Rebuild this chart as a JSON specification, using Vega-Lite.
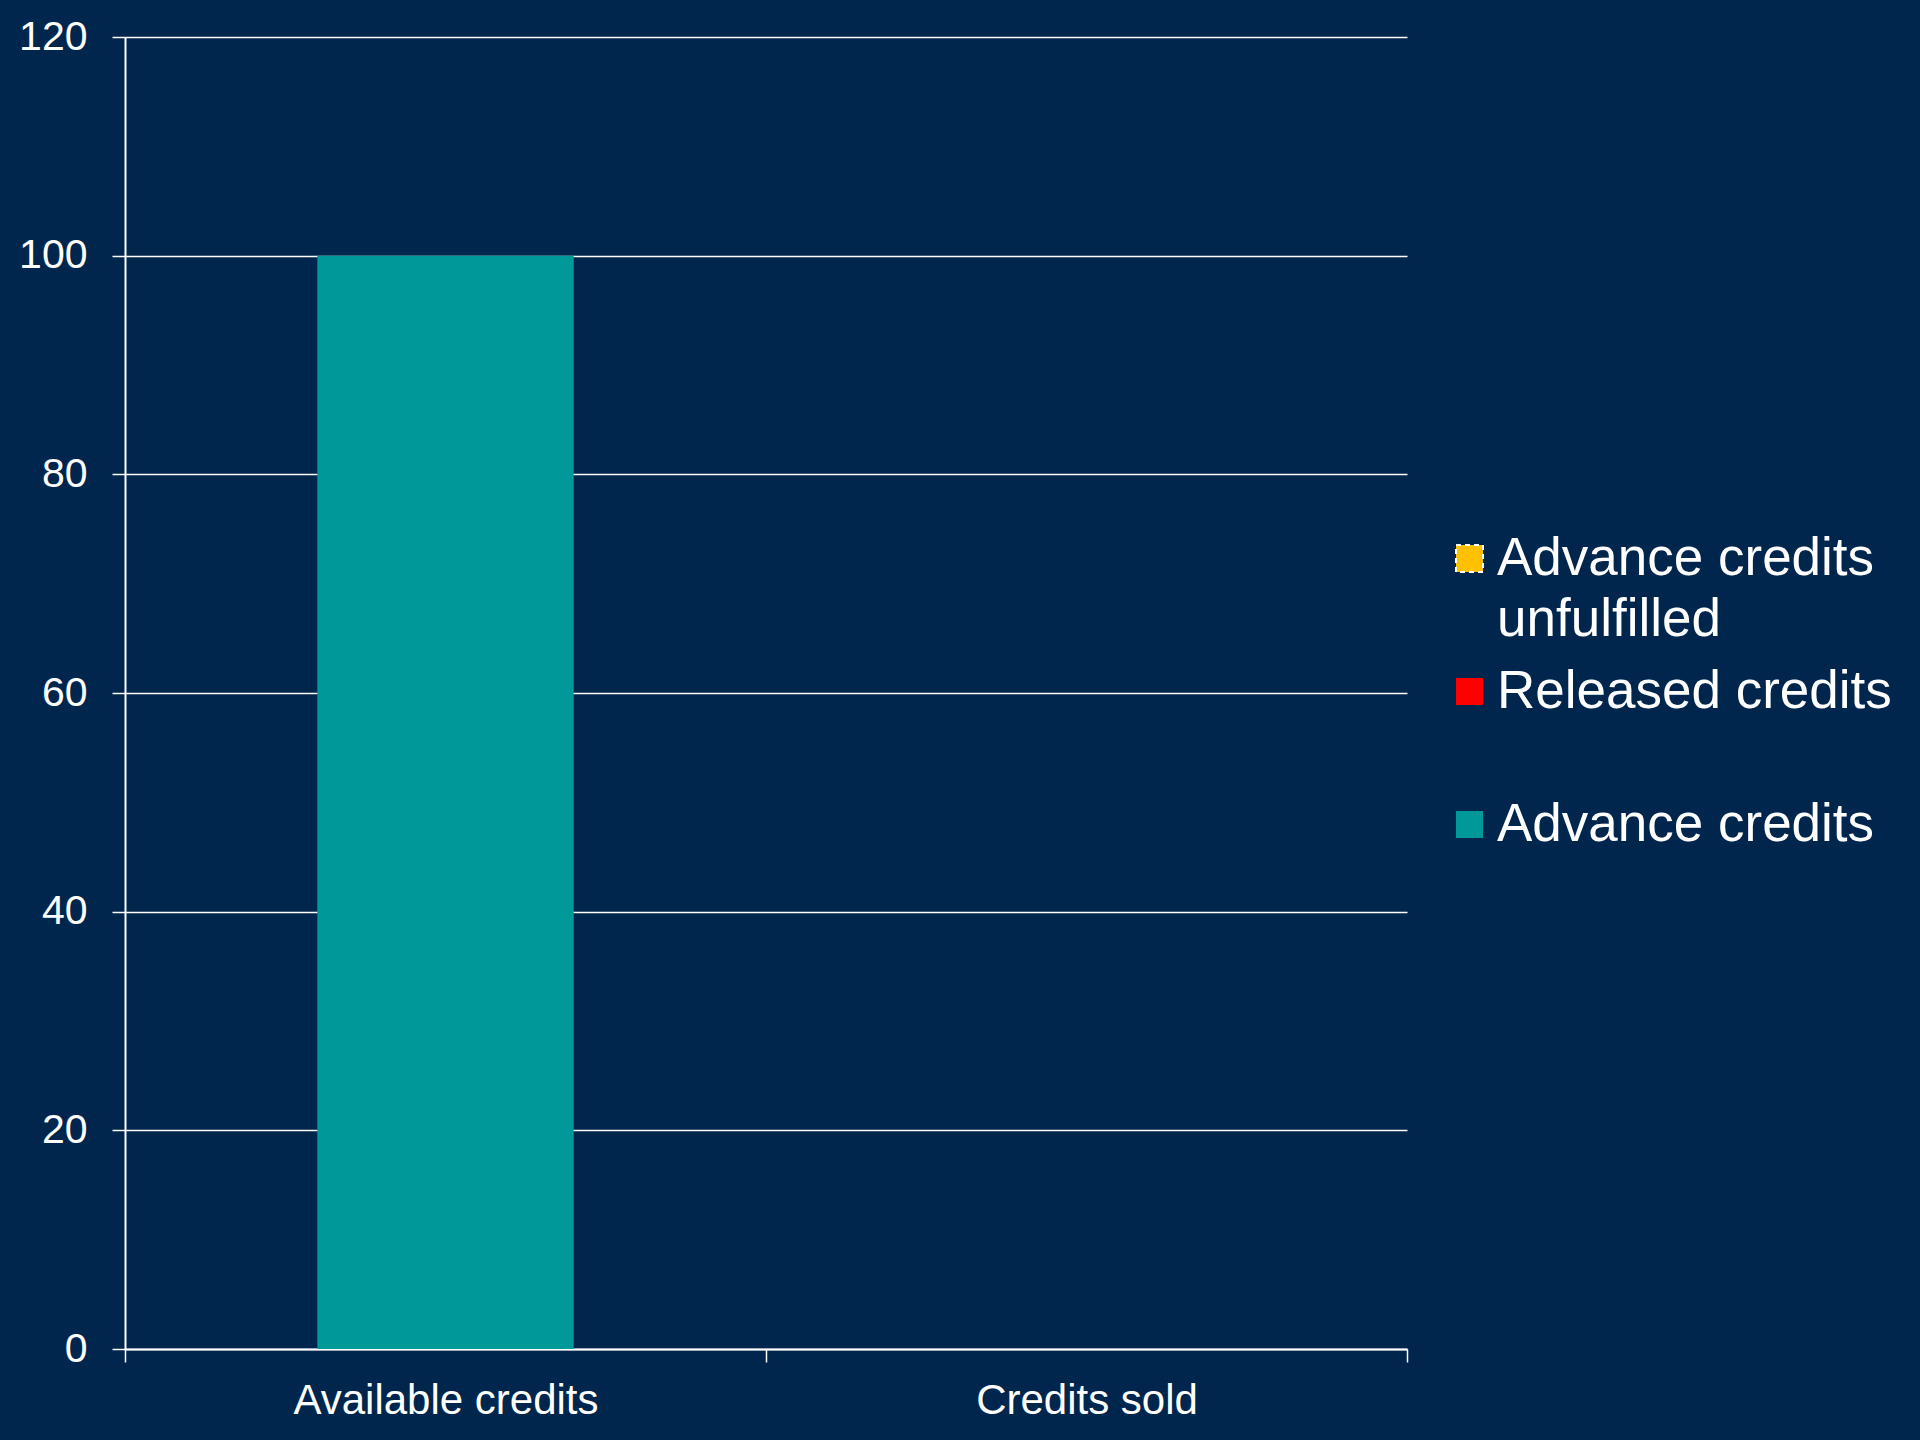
{
  "$schema": "https://vega.github.io/schema/vega-lite/v6.json",
  "width": 1282,
  "height": 1312,
  "autosize": {"type": "none"},
  "padding": {"left": 125, "top": 37, "right": 513, "bottom": 91},
  "background": "#00264D",
  "config": {
    "view": {"stroke": null},
    "font": "Liberation Sans"
  },
  "data": {
    "values": [
      {"category": "Available credits", "series": "Advance credits", "value": 100, "ord": 1},
      {"category": "Available credits", "series": "Released credits", "value": 0, "ord": 2},
      {"category": "Available credits", "series": "Advance credits unfulfilled", "value": 0, "ord": 3},
      {"category": "Credits sold", "series": "Advance credits", "value": 0, "ord": 1},
      {"category": "Credits sold", "series": "Released credits", "value": 0, "ord": 2},
      {"category": "Credits sold", "series": "Advance credits unfulfilled", "value": 0, "ord": 3}
    ]
  },
  "mark": {"type": "bar", "width": {"band": 0.4}},
  "encoding": {
    "x": {
      "field": "category",
      "type": "nominal",
      "sort": null,
      "title": null,
      "scale": {"paddingInner": 0, "paddingOuter": 0},
      "axis": {
        "labelAngle": 0,
        "labelFontSize": 42,
        "labelColor": "white",
        "labelFont": "Liberation Sans",
        "labelLimit": 0,
        "labelPadding": 18,
        "tickSize": 13,
        "tickColor": "white",
        "tickWidth": 1.5,
        "tickBand": "extent",
        "domainColor": "white",
        "domainWidth": 2,
        "grid": false
      }
    },
    "y": {
      "field": "value",
      "type": "quantitative",
      "stack": "zero",
      "title": null,
      "scale": {"domain": [0, 120], "nice": false},
      "axis": {
        "values": [0, 20, 40, 60, 80, 100, 120],
        "labelFontSize": 41,
        "labelColor": "white",
        "labelFont": "Liberation Sans",
        "labelPadding": 25,
        "tickSize": 13,
        "tickColor": "white",
        "tickWidth": 1.5,
        "domainColor": "white",
        "domainWidth": 2,
        "grid": true,
        "gridColor": "white",
        "gridWidth": 1.5,
        "gridOpacity": 1
      }
    },
    "order": {"field": "ord", "type": "quantitative"},
    "color": {
      "field": "series",
      "type": "nominal",
      "title": null,
      "scale": {
        "domain": ["Advance credits unfulfilled", "Released credits", "Advance credits"],
        "range": ["#FFC000", "#FF0000", "#009999"]
      },
      "legend": {
        "orient": "none",
        "legendX": 1318,
        "legendY": 495,
        "padding": 0,
        "symbolType": "square",
        "symbolSize": 729,
        "symbolStrokeWidth": 0,
        "labelFontSize": 53,
        "labelColor": "white",
        "labelFont": "Liberation Sans",
        "labelLimit": 0,
        "labelOffset": 1,
        "labelBaseline": "alphabetic",
        "labelExpr": "datum.label == 'Advance credits unfulfilled' ? ['Advance credits', 'unfulfilled'] : datum.label",
        "gridAlign": "all",
        "rowPadding": 18,
        "encode": {
          "labels": {"update": {"dy": {"value": 16}, "lineHeight": {"value": 61}}},
          "symbols": {
            "update": {
              "stroke": {"signal": "datum.label == 'Advance credits unfulfilled' ? 'white' : null"},
              "strokeWidth": {"signal": "datum.label == 'Advance credits unfulfilled' ? 2 : 0"},
              "strokeDash": {"signal": "datum.label == 'Advance credits unfulfilled' ? [5, 4] : []"}
            }
          }
        }
      }
    }
  }
}
